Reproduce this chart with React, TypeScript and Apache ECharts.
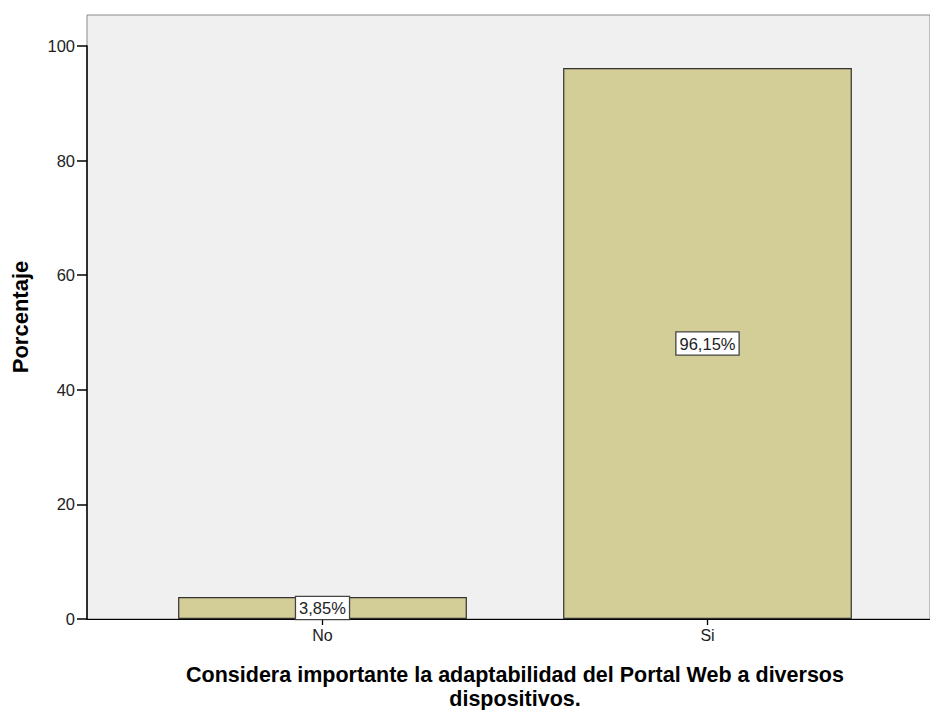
import React, { useEffect, useRef } from "react";
import * as echarts from "echarts";

const categories = ["No", "Si"];
const percentValues = [3.85, 96.15];
const yTicks = [0, 20, 40, 60, 80, 100];
const xTitle = "Considera importante la adaptabilidad del Portal Web a diversos\ndispositivos.";
const yTitle = "Porcentaje";

const FONT = "'Liberation Sans', Arial, sans-serif";

export default function App() {
  const ref = useRef<HTMLDivElement>(null);
  useEffect(() => {
    if (!ref.current) return;
    const chart = echarts.init(ref.current, null, { renderer: "svg" });
    const option = {
      animation: false,
      backgroundColor: "#ffffff",
      textStyle: { fontFamily: FONT },
      grid: [
        {
          left: 87, right: 0, top: 15, bottom: 91, outerBoundsMode: "none",
          show: true, backgroundColor: "#f0f0f0", borderColor: "#8a8a8a", borderWidth: 1,
        },
        { left: 130, right: 30, top: 46, bottom: 91, outerBoundsMode: "none" },
      ],
      xAxis: [
        {
          type: "value", gridIndex: 0, min: 0, max: 1,
          axisLine: { show: true, lineStyle: { color: "#000", width: 1 } },
          axisTick: { show: false }, axisLabel: { show: false }, splitLine: { show: false },
        },
        {
          type: "category", gridIndex: 1, data: categories,
          axisLine: { show: false },
          axisTick: { show: true, alignWithLabel: true, length: 6, lineStyle: { color: "#000", width: 1.3 } },
          axisLabel: { color: "#222", fontSize: 16, fontFamily: FONT, margin: 8 },
          name: xTitle, nameLocation: "middle", nameGap: 44,
          nameTextStyle: { fontSize: 21.5, fontWeight: "bold", color: "#000", fontFamily: FONT, lineHeight: 24 },
        },
      ],
      yAxis: [
        {
          type: "value", gridIndex: 0, min: 0, max: 1,
          axisLine: { show: false }, axisTick: { show: false }, axisLabel: { show: false }, splitLine: { show: false },
          name: yTitle, nameLocation: "middle", nameGap: 56, nameRotate: 90,
          nameTextStyle: { fontSize: 22, fontWeight: "bold", color: "#000", fontFamily: FONT },
        },
        {
          type: "value", gridIndex: 1, min: yTicks[0], max: yTicks[yTicks.length - 1], interval: 20,
          offset: 43,
          axisLine: { show: true, lineStyle: { color: "#000", width: 1.5 } },
          axisTick: { show: true, length: 10, lineStyle: { color: "#000", width: 1.5 } },
          axisLabel: { color: "#222", fontSize: 16.5, fontFamily: FONT, margin: 12 },
          splitLine: { show: false },
        },
      ],
      series: [
        {
          type: "bar", xAxisIndex: 1, yAxisIndex: 1,
          data: percentValues, barWidth: "75%",
          itemStyle: { color: "#d3cd97", borderColor: "#333", borderWidth: 1.2 },
          label: {
            show: true, position: "inside",
            formatter: (p: any) => p.value.toFixed(2).replace(".", ",") + "%",
            color: "#222", fontSize: 16.5, fontFamily: FONT,
            backgroundColor: "#fff", borderColor: "#444", borderWidth: 1.3,
            padding: [3, 3, 2, 3],
          },
        },
      ],
    };
    chart.setOption(option);
    return () => chart.dispose();
  }, []);
  return (
    <div
      ref={ref}
      style={{ position: "fixed", left: 0, top: 0, width: 930, height: 710 }}
    />
  );
}
